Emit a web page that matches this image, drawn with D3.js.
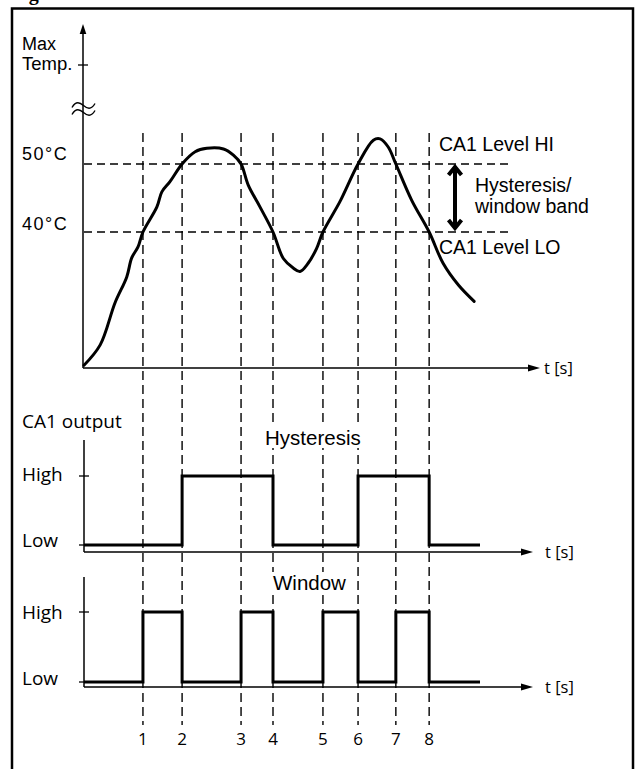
<!DOCTYPE html>
<html>
<head>
<meta charset="utf-8">
<script src="https://cdn.jsdelivr.net/npm/d3@7"></script>
<style>
  html, body { margin: 0; padding: 0; background: #fff; }
  svg { display: block; }
</style>
</head>
<body>
<svg id="chart" width="637" height="769"></svg>
<script>
// ---------------- DATA ----------------
// Event instants (dashed reference lines), in time units
const eventTimes = [13.1, 21.8, 34.9, 42.0, 53.1, 60.9, 69.3, 76.7];
const eventLabels = ["1", "2", "3", "4", "5", "6", "7", "8"];

// Max temperature curve: time values and temperature values (°C)
const curveTime = [0, 3.6, 6.9, 9.5, 10.6, 12.0, 13.1, 16.2, 17.3, 19.1, 21.8, 24.7, 27.3, 31.0, 33.2, 34.9,
                   36.5, 39.1, 42.0, 44.3, 46.5, 48.0, 49.8, 51.7, 53.1, 56.9, 60.9, 64.3, 65.8, 67.6, 69.3,
                   72.8, 76.7, 79.8, 83.2, 86.7];
const curveTemp = [20.4, 23.4, 29.6, 33.4, 36.2, 37.8, 40.0, 43.7, 45.9, 47.4, 50.0, 51.8, 52.3, 52.2, 51.3, 50.0,
                   46.9, 43.7, 40.0, 36.1, 34.7, 34.2, 35.4, 37.6, 40.0, 44.5, 50.0, 53.5, 53.7, 52.5, 50.0,
                   44.7, 40.0, 35.4, 32.2, 29.8];

// Threshold levels (°C)
const levelHI = 50;
const levelLO = 40;
const levelTickLabels = ["50°C", "40°C"];

// CA1 output signals: step times and states (0 = Low, 1 = High)
const hystTime  = [0, 21.8, 42.0, 60.9, 76.7, 88];
const hystState = [0, 1,    0,    1,    0,    0];
const winTime   = [0, 13.1, 21.8, 34.9, 42.0, 53.1, 60.9, 69.3, 76.7, 88];
const winState  = [0, 1,    0,    1,    0,    1,    0,    1,    0,    0];
const stateLabels = ["Low", "High"];

// ---------------- LAYOUT ----------------
const svg = d3.select("#chart");
const x = d3.scaleLinear().domain([0, 100]).range([84, 534]);
const yTemp = d3.scaleLinear().domain([20, 50]).range([368, 164]);
const yHyst = d3.scaleLinear().domain([0, 1]).range([545, 476]);
const yWin  = d3.scaleLinear().domain([0, 1]).range([682, 612]);

const sans = "'Liberation Sans', Arial, sans-serif";
const open = "'Open Sans', 'Noto Sans', sans-serif";

// Frame and cut-off figure title
svg.append("text").attr("x", 11).attr("y", -0.5)
  .attr("font-family", "'Liberation Serif', serif").attr("font-weight", "bold")
  .attr("font-size", 20).text("Fig");
svg.append("rect").attr("x", 12).attr("y", 8.5).attr("width", 621).attr("height", 800)
  .attr("fill", "none").attr("stroke", "#000").attr("stroke-width", 2.5);

// Vertical dashed event lines
svg.append("g").selectAll("line").data(eventTimes).join("line")
  .attr("x1", d => x(d)).attr("x2", d => x(d))
  .attr("y1", 133).attr("y2", 725)
  .attr("stroke", "#000").attr("stroke-width", 1.4).attr("stroke-dasharray", "9,5");

// Horizontal dashed level lines
svg.append("g").selectAll("line").data([levelHI, levelLO]).join("line")
  .attr("x1", x(0)).attr("x2", 513)
  .attr("y1", d => yTemp(d)).attr("y2", d => yTemp(d))
  .attr("stroke", "#000").attr("stroke-width", 1.4).attr("stroke-dasharray", "8,5");

// Helper for arrows
function hArrow(y0, x0, x1) {
  svg.append("line").attr("x1", x0).attr("x2", x1 - 8).attr("y1", y0).attr("y2", y0)
    .attr("stroke", "#000").attr("stroke-width", 1.5);
  svg.append("path").attr("d", `M${x1},${y0} L${x1 - 12},${y0 - 3.5} L${x1 - 12},${y0 + 3.5} Z`).attr("fill", "#000");
}

// ---- Top chart axes ----
const axisX = 83;
svg.append("line").attr("x1", axisX).attr("x2", axisX).attr("y1", yTemp(20)).attr("y2", 30)
  .attr("stroke", "#000").attr("stroke-width", 1.5);
svg.append("path").attr("d", `M${axisX},24 L${axisX - 3.3},34 L${axisX + 3.3},34 Z`).attr("fill", "#000");
hArrow(yTemp(20), axisX, 540);
// Max Temp tick
svg.append("line").attr("x1", axisX - 5).attr("x2", axisX + 5).attr("y1", 65).attr("y2", 65)
  .attr("stroke", "#000").attr("stroke-width", 1.3);
// Axis break symbol
[105.5, 112.5].forEach(yy => {
  svg.append("path")
    .attr("d", `M72,${yy + 2} C76,${yy - 5} 80,${yy - 3} 83.5,${yy} C87,${yy + 3} 91,${yy + 5} 95,${yy - 2}`)
    .attr("fill", "none").attr("stroke", "#000").attr("stroke-width", 1.4);
});

// Temperature curve
const curveData = curveTime.map((t, i) => [t, curveTemp[i]]);
svg.append("path").datum(curveData)
  .attr("d", d3.line().x(d => x(d[0])).y(d => yTemp(d[1])).curve(d3.curveCatmullRom.alpha(0.5)))
  .attr("fill", "none").attr("stroke", "#000").attr("stroke-width", 3)
  .attr("stroke-linejoin", "round").attr("stroke-linecap", "round");

// Hysteresis band double arrow
const ax = 455, aTop = yTemp(levelHI) + 1, aBot = yTemp(levelLO) - 2;
svg.append("line").attr("x1", ax).attr("x2", ax).attr("y1", aTop + 3).attr("y2", aBot - 3)
  .attr("stroke", "#000").attr("stroke-width", 4);
svg.append("path").attr("d", `M${ax - 6.5},${aTop + 10} L${ax},${aTop + 2} L${ax + 6.5},${aTop + 10}`)
  .attr("fill", "none").attr("stroke", "#000").attr("stroke-width", 4);
svg.append("path").attr("d", `M${ax - 6.5},${aBot - 10} L${ax},${aBot - 2} L${ax + 6.5},${aBot - 10}`)
  .attr("fill", "none").attr("stroke", "#000").attr("stroke-width", 4);

// Text helper
function txt(t, xx, yy, size, fam, anchor) {
  return svg.append("text").attr("x", xx).attr("y", yy).attr("font-size", size)
    .attr("font-family", fam).attr("text-anchor", anchor || "start").attr("fill", "#000").text(t);
}
// Title text with white background box that interrupts the dashed lines
function boxedTxt(t, xx, yy, size, fam) {
  const bg = svg.append("rect").attr("fill", "#fff");
  const el = txt(t, xx, yy, size, fam);
  const bb = el.node().getBBox();
  bg.attr("x", bb.x - 2).attr("y", bb.y + 1).attr("width", bb.width + 4).attr("height", bb.height - 2);
  return el;
}

txt("Max", 22, 50, 18, sans);
txt("Temp.", 22, 70, 18.5, sans);
txt(levelTickLabels[0], 22, yTemp(levelHI) - 4.5, 18, sans).attr("letter-spacing", 1.5);
txt(levelTickLabels[1], 22, yTemp(levelLO) - 2.5, 18, sans).attr("letter-spacing", 1.5);
txt("CA1 Level HI", 439, yTemp(levelHI) - 13.5, 19.5, sans);
txt("Hysteresis/", 475, 192, 19.5, sans);
txt("window band", 475, 213, 19.5, sans);
txt("CA1 Level LO", 439, yTemp(levelLO) + 22, 19.5, sans);
txt("t [s]", 544, yTemp(20) + 6, 16.5, open);

// ---- Hysteresis chart ----
const hAxisY = 552;
svg.append("line").attr("x1", 84).attr("x2", 84).attr("y1", 440).attr("y2", hAxisY)
  .attr("stroke", "#000").attr("stroke-width", 1.5);
hArrow(hAxisY, 84, 533);
svg.append("line").attr("x1", 79).attr("x2", 89).attr("y1", yHyst(1)).attr("y2", yHyst(1))
  .attr("stroke", "#000").attr("stroke-width", 1.3);
svg.append("line").attr("x1", 79).attr("x2", 84).attr("y1", yHyst(0)).attr("y2", yHyst(0))
  .attr("stroke", "#000").attr("stroke-width", 1.3);
const hystData = hystTime.map((t, i) => [t, hystState[i]]);
svg.append("path").datum(hystData)
  .attr("d", d3.line().x(d => x(d[0])).y(d => yHyst(d[1])).curve(d3.curveStepAfter))
  .attr("fill", "none").attr("stroke", "#000").attr("stroke-width", 3);
txt("CA1 output", 22, 428, 19, open);
boxedTxt("Hysteresis", 265, 445, 20.5, sans);
txt(stateLabels[1], 22, yHyst(1) + 4.5, 19, open);
txt(stateLabels[0], 22, yHyst(0) + 2, 19, open);
txt("t [s]", 545, hAxisY + 6, 16.5, open);

// ---- Window chart ----
const wAxisY = 687;
svg.append("line").attr("x1", 84).attr("x2", 84).attr("y1", 577).attr("y2", wAxisY)
  .attr("stroke", "#000").attr("stroke-width", 1.5);
hArrow(wAxisY, 84, 533);
svg.append("line").attr("x1", 79).attr("x2", 89).attr("y1", yWin(1)).attr("y2", yWin(1))
  .attr("stroke", "#000").attr("stroke-width", 1.3);
svg.append("line").attr("x1", 79).attr("x2", 84).attr("y1", yWin(0)).attr("y2", yWin(0))
  .attr("stroke", "#000").attr("stroke-width", 1.3);
const winData = winTime.map((t, i) => [t, winState[i]]);
svg.append("path").datum(winData)
  .attr("d", d3.line().x(d => x(d[0])).y(d => yWin(d[1])).curve(d3.curveStepAfter))
  .attr("fill", "none").attr("stroke", "#000").attr("stroke-width", 3);
boxedTxt("Window", 273, 590, 20.5, sans);
txt(stateLabels[1], 22, yWin(1) + 6.5, 19, open);
txt(stateLabels[0], 22, yWin(0) + 3, 19, open);
txt("t [s]", 545, wAxisY + 6, 16.5, open);

// Event number labels
svg.append("g").selectAll("text").data(eventTimes).join("text")
  .attr("x", d => x(d)).attr("y", 745).attr("text-anchor", "middle")
  .attr("font-family", open).attr("font-size", 17).text((d, i) => eventLabels[i]);
</script>
</body>
</html>
